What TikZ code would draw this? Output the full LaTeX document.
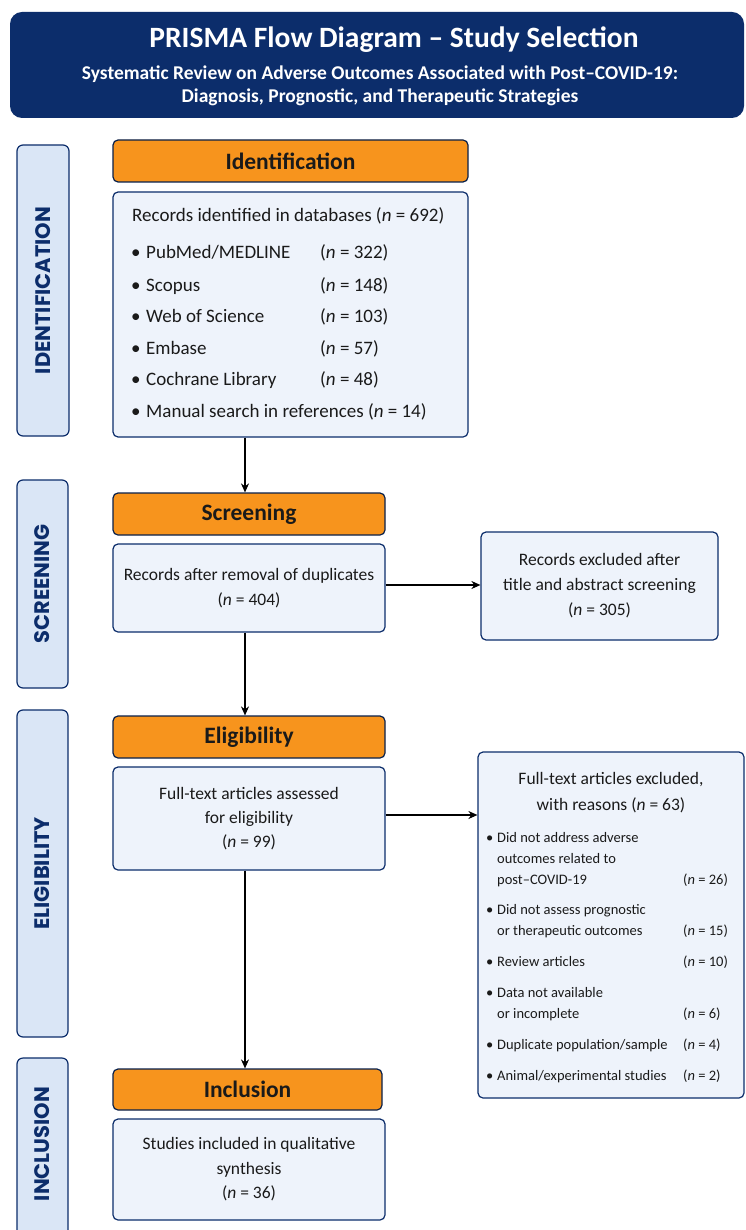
\documentclass[tikz,border=0pt]{standalone}
\usepackage{fontspec}
\setmainfont{Carlito}
\newfontfamily\sidefont{Poppins}
\usetikzlibrary{arrows.meta}
\definecolor{navy}{HTML}{0C2D6B}
\definecolor{orangefill}{HTML}{F7941D}
\definecolor{boxfill}{HTML}{EEF3FB}
\definecolor{sidefill}{HTML}{DAE6F6}
\definecolor{darktext}{HTML}{1A1A1A}
\begin{document}
\begin{tikzpicture}[x=1pt,y=-1pt,
  hdr/.style={draw=navy!70!black, line width=1.2pt, fill=orangefill, rounded corners=5pt, inner sep=0pt,
    font=\fontsize{23.5}{26}\selectfont\bfseries, text=darktext},
  box/.style={draw=navy, line width=1.2pt, fill=boxfill, rounded corners=5pt, inner sep=0pt},
  side/.style={draw=navy, line width=1.2pt, fill=sidefill, rounded corners=6pt},
  sidelabel/.style={rotate=90, font=\sidefont\fontsize{21}{24}\selectfont\bfseries, text=navy},
  txt/.style={font=\fontsize{17.5}{25}\selectfont, text=darktext, align=center, inner sep=0pt},
  itm/.style={font=\fontsize{19}{22}\selectfont, text=darktext, anchor=base west, inner sep=0pt},
  sm/.style={font=\fontsize{14.5}{21}\selectfont, text=darktext, anchor=base west, inner sep=0pt},
  arr/.style={-{Stealth[length=9pt,width=8pt]}, line width=1.3pt, black}
]
\useasboundingbox (0,0) rectangle (745,1230);
\fill[white] (0,0) rectangle (745,1230);

% header
\node[fill=navy, rounded corners=12pt, minimum width=734pt, minimum height=106pt, inner sep=0pt] (header) at (377,65) {};
\node[text=white, font=\fontsize{29.5}{32}\selectfont\bfseries, inner sep=0pt] (title) at (394,40) {PRISMA Flow Diagram -- Study Selection};
\node[text=white, font=\fontsize{19.5}{23}\selectfont\bfseries, align=center, inner sep=0pt] (subtitle) at (380,86)
  {Systematic Review on Adverse Outcomes Associated with Post--COVID-19:\\Diagnosis, Prognostic, and Therapeutic Strategies};

% side labels
\node[side, minimum width=52pt, minimum height=291pt] (sideid) at (43,290.5) {};
\node[sidelabel] (sideidt) at (sideid) {IDENTIFICATION};
\node[side, minimum width=51pt, minimum height=208pt] (sidescr) at (42.5,584) {};
\node[sidelabel] (sidescrt) at (sidescr) {SCREENING};
\node[side, minimum width=51pt, minimum height=327pt] (sideel) at (42.5,873.5) {};
\node[sidelabel] (sideelt) at (sideel) {ELIGIBILITY};
\node[side, minimum width=51pt, minimum height=190pt] (sidein) at (42.5,1153) {};
\node[sidelabel] (sideint) at (42.5,1144) {INCLUSION};

% Identification
\node[hdr, minimum width=355pt, minimum height=42pt] (hid) at (290.5,161) {Identification};
\node[box, minimum width=355pt, minimum height=245pt] (bid) at (290.5,314.5) {};
\node[itm] (idt) at (132,222) {Records identified in databases (\textit{n} = 692)};
\foreach \y/\a/\b [count=\i] in {259/PubMed\slash MEDLINE/322, 291/Scopus/148, 322/Web of Science/103, 354/Embase/57, 385/Cochrane Library/48}{
  \node[itm] (idb\i) at (131,\y) {\textbullet};
  \node[itm] (ida\i) at (146,\y) {\a};
  \node[itm] (idn\i) at (320,\y) {(\textit{n} = \b)};
}
\node[itm] (idb6) at (131,417) {\textbullet};
\node[itm] (ida6) at (146,417) {Manual search in references (\textit{n} = 14)};

% Screening
\node[hdr, minimum width=272pt, minimum height=42pt] (hscr) at (249,514) {Screening};
\node[box, minimum width=272pt, minimum height=88pt] (bscr) at (249,588) {};
\node[txt] (bscrt) at (bscr) {Records after removal of duplicates\\(\textit{n} = 404)};
\node[box, minimum width=237pt, minimum height=108pt] (exscr) at (599.5,586) {};
\node[txt] (exscrt) at (exscr) {Records excluded after\\title and abstract screening\\(\textit{n} = 305)};

% Eligibility
\node[hdr, minimum width=272pt, minimum height=42pt] (hel) at (249,737) {Eligibility};
\node[box, minimum width=272pt, minimum height=103pt] (bel) at (249,818.5) {};
\node[txt, font=\fontsize{17.5}{24}\selectfont] (belt) at (bel) {Full-text articles assessed\\for eligibility\\(\textit{n} = 99)};
\node[box, minimum width=266pt, minimum height=346pt] (exel) at (611,925) {};
\node[txt, font=\fontsize{17.5}{26}\selectfont] (exelt) at (611,793) {Full-text articles excluded,\\with reasons (\textit{n} = 63)};
\foreach \y in {842,914,966,997,1049,1080}{ \node[sm] at (486,\y) {\textbullet}; }
\node[sm] (r1a) at (497,842) {Did not address adverse};
\node[sm] (r1b) at (497,863) {outcomes related to};
\node[sm] (r1c) at (497,884) {post--COVID-19};
\node[sm] (r1n) at (683,884) {(\textit{n} = 26)};
\node[sm] (r2a) at (497,914) {Did not assess prognostic};
\node[sm] (r2b) at (497,935) {or therapeutic outcomes};
\node[sm] (r2n) at (683,935) {(\textit{n} = 15)};
\node[sm] (r3) at (497,966) {Review articles};
\node[sm] (r3n) at (683,966) {(\textit{n} = 10)};
\node[sm] (r4a) at (497,997) {Data not available};
\node[sm] (r4b) at (497,1018) {or incomplete};
\node[sm] (r4n) at (683,1018) {(\textit{n} = 6)};
\node[sm] (r5) at (497,1049) {Duplicate population/sample};
\node[sm] (r5n) at (683,1049) {(\textit{n} = 4)};
\node[sm] (r6) at (497,1080) {Animal/experimental studies};
\node[sm] (r6n) at (683,1080) {(\textit{n} = 2)};

% Inclusion
\node[hdr, minimum width=269pt, minimum height=41pt] (hin) at (247.5,1089.5) {Inclusion};
\node[box, minimum width=272pt, minimum height=101pt] (bin) at (249,1169.5) {};
\node[txt, font=\fontsize{17.5}{24.5}\selectfont] (bint) at (bin) {Studies included in qualitative\\synthesis\\(\textit{n} = 36)};

% arrows
\draw[arr] (bid.south -| 245,0) -- (hscr.north -| 245,0);
\draw[arr] (bscr.east) ++(0,-3) -- (exscr.west |- 0,585);
\draw[arr] (bscr.south -| 245,0) -- (hel.north -| 245,0);
\draw[arr] (bel.east |- 0,815) -- (exel.west |- 0,815);
\draw[arr] (bel.south -| 245,0) -- (hin.north -| 245,0);
\end{tikzpicture}
\end{document}
